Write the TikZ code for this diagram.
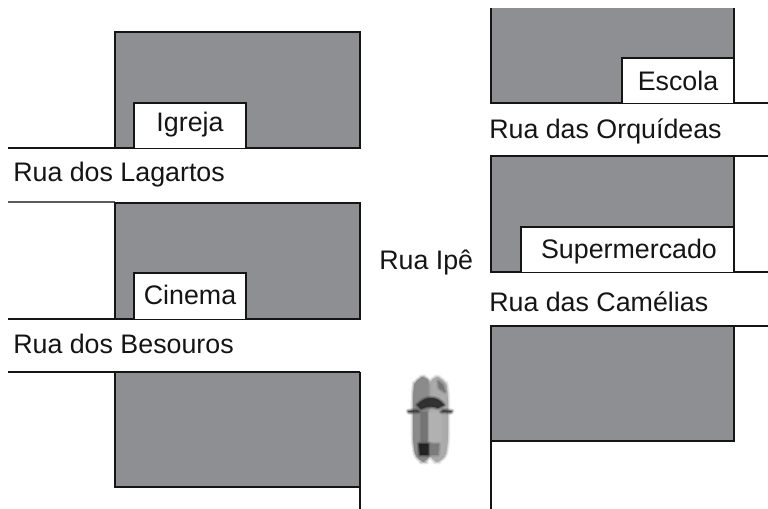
\documentclass[tikz,border=0pt]{standalone}
\usepackage{fontspec}
\setmainfont{Liberation Sans}
\usetikzlibrary{shapes.geometric}
\definecolor{blockgray}{HTML}{8E8F92}
\definecolor{ink}{HTML}{151515}
\newcommand{\softshape}[2]{%
  \fill[#1,draw=#1,line width=3.4pt,opacity=.22,line join=round] #2;
  \fill[#1,draw=#1,line width=1.8pt,opacity=.35,line join=round] #2;
  \fill[#1,opacity=.9] #2;}
\tikzset{
  block/.style={fill=blockgray,draw=ink,line width=1.6pt,line join=miter},
  blockfill/.style={fill=blockgray,draw=none},
  edge/.style={draw=ink,line width=1.6pt},
  softedge/.style={draw=ink!70,line width=1.8pt},
  place/.style={fill=white,draw=ink,line width=1.6pt},
  label/.style={font=\fontsize{20.1pt}{23pt}\selectfont,text=ink,inner sep=0pt,anchor=base west},
  placelabel/.style={font=\fontsize{20.1pt}{23pt}\selectfont,text=ink,inner sep=0pt,anchor=base},
}
\begin{document}
\begin{tikzpicture}[x=0.75pt,y=-0.75pt]
\useasboundingbox (0,0) rectangle (768,509);
% left blocks
\draw[block] (115,32) rectangle (360,148);
\draw[place] (134,148) -- (134,103) -- (246,103) -- (246,148);
\draw[edge] (8,148) -- (115,148);
\draw[softedge] (8,202) -- (115,202);
\draw[block] (115,203) rectangle (360,319);
\draw[place] (134,319) -- (134,273) -- (246,273) -- (246,319);
\draw[edge] (8,319) -- (115,319);
\fill[blockfill] (115,372) rectangle (360,487);
\draw[edge] (8,372) -- (360,372);
\draw[edge] (115,372) -- (115,487) -- (360,487);
\draw[edge] (360,372) -- (360,509);
% right blocks
\fill[blockfill] (491,8) rectangle (734,103);
\draw[edge] (491,8) -- (491,103) -- (768,103);
\draw[edge] (734,8) -- (734,103);
\draw[place] (622,103) -- (622,58) -- (734,58) -- (734,103);
\draw[block] (491,156) rectangle (734,272);
\draw[place] (521,272) -- (521,227) -- (734,227) -- (734,272);
\draw[edge] (734,156) -- (768,156);
\draw[edge] (734,272) -- (768,272);
\fill[blockfill] (491,326) rectangle (734,441);
\draw[edge] (491,509) -- (491,326) -- (768,326);
\draw[edge] (734,326) -- (734,441) -- (491,441);
% labels
\node[placelabel] (igreja) at (190,132) {Igreja};
\node[placelabel] (cinema) at (190,305) {Cinema};
\node[placelabel] (escola) at (678,91) {Escola};
\node[placelabel] (super) at (629,259) {Supermercado};
\node[label] (lagartos) at (13,182) {Rua dos Lagartos};
\node[label] (besouros) at (13,354) {Rua dos Besouros};
\node[label] (orquideas) at (489,139) {Rua das Orquídeas};
\node[label] (camelias) at (489,312) {Rua das Camélias};
\node[label] (ipe) at (379,270) {Rua Ipê};
% car
\softshape{black!48}{[rounded corners=7pt] (415,378) -- (430,376) -- (430,462) -- (417,462) -- (413,445) -- (413,392) -- cycle}
\softshape{black!35}{[rounded corners=7pt] (430,376) -- (445,378) -- (448,392) -- (448,445) -- (444,462) -- (430,462) -- cycle}
\softshape{black!55}{(438,381) -- (443,385) -- (445,392) -- (439,388) -- cycle}
\softshape{black!82}{(417,405) .. controls (422,400) and (426,398) .. (431,398) .. controls (436,398) and (440,400) .. (444,405) -- (438,408) .. controls (433,406) and (427,406) .. (421,409) -- cycle}
\softshape{black!55}{(421,412) -- (428,412) -- (428,442) -- (421,442) -- cycle}
\softshape{black!30}{(429,412) -- (441,412) -- (441,442) -- (429,442) -- cycle}
\softshape{black!88}{(419,444) -- (429,444) -- (429,455) -- (420,455) -- cycle}
\softshape{black!52}{(430,444) -- (439,444) -- (438,455) -- (430,455) -- cycle}
\softshape{black!75}{(408,411) -- (417,410) -- (419,412) -- (409,412.5) -- cycle}
\softshape{black!75}{(452,411) -- (443,410) -- (441,412) -- (451,412.5) -- cycle}
\end{tikzpicture}
\end{document}
